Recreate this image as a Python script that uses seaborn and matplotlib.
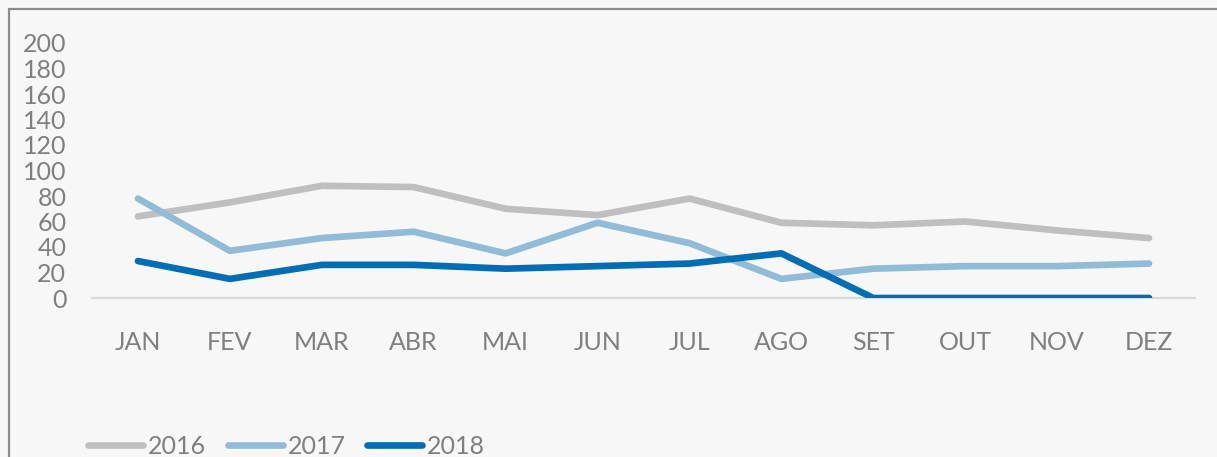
import matplotlib
matplotlib.use("Agg")
import matplotlib.pyplot as plt
from matplotlib.patches import Rectangle
import pandas as pd
import seaborn as sns

# ---------------------------------------------------------------------------
# Data
# ---------------------------------------------------------------------------
MONTHS = ["JAN", "FEV", "MAR", "ABR", "MAI", "JUN",
          "JUL", "AGO", "SET", "OUT", "NOV", "DEZ"]
VALUES_2016 = [64, 75, 88, 87, 70, 65, 78, 59, 57, 60, 53, 47]
VALUES_2017 = [78, 37, 47, 52, 35, 59, 43, 15, 23, 25, 25, 27]
VALUES_2018 = [29, 15, 26, 26, 23, 25, 27, 35, 0, 0, 0, 0]
YEARS = ["2016", "2017", "2018"]
YTICKS = list(range(0, 201, 20))

COLOURS = {"2016": "#bfbfbf", "2017": "#91bcd7", "2018": "#006db4"}
TEXT = "#7f7f7f"
BG = "#f7f7f7"

sns.set_style("white")
plt.rcParams["font.family"] = ["Lato", "DejaVu Sans"]

df = pd.DataFrame({
    "mes": MONTHS * 3,
    "valor": VALUES_2016 + VALUES_2017 + VALUES_2018,
    "ano": [y for y in YEARS for _ in MONTHS],
})

W, H = 1217, 457
fig = plt.figure(figsize=(W / 100, H / 100), dpi=100, facecolor=BG)
ax = fig.add_axes([92 / W, 1 - 298 / H, (1195 - 92) / W, (298 - 43) / H])
ax.set_facecolor(BG)

sns.lineplot(
    data=df, x="mes", y="valor", hue="ano", hue_order=YEARS,
    palette=COLOURS, linewidth=4.8, sort=False, ax=ax,
    solid_capstyle="round", solid_joinstyle="round",
)

ax.set_xlim(-0.5, len(MONTHS) - 0.5)
ax.set_ylim(0, 200)
ax.set_yticks(YTICKS)
ax.set_xlabel("")
ax.set_ylabel("")
for side in ("top", "right", "left"):
    ax.spines[side].set_visible(False)
ax.spines["bottom"].set_color("#d9d9d9")
ax.spines["bottom"].set_linewidth(1.6)
ax.spines["bottom"].set_zorder(0)
ax.tick_params(axis="both", length=0, labelsize=18, labelcolor=TEXT)
ax.tick_params(axis="y", pad=18.5)
ax.tick_params(axis="x", pad=24)
ax.grid(False)

leg = ax.legend(
    loc="center left", bbox_to_anchor=(88 / W, 1 - 446 / H),
    bbox_transform=fig.transFigure, ncol=3, frameon=False,
    fontsize=18, handlelength=2.2, handletextpad=0.2,
    columnspacing=0.86, borderpad=0, borderaxespad=0,
)
for txt in leg.get_texts():
    txt.set_color(TEXT)
for line in leg.get_lines():
    line.set_solid_capstyle("round")

# chart-area border (cropped on the right and bottom)
fig.patches.append(Rectangle(
    (8.5 / W, -0.1), 1.2, 1 - 9 / H + 0.1,
    transform=fig.transFigure, fill=False,
    edgecolor="#8c8c8c", linewidth=1.6,
))

fig.savefig("out.png", dpi=100, facecolor=BG)
